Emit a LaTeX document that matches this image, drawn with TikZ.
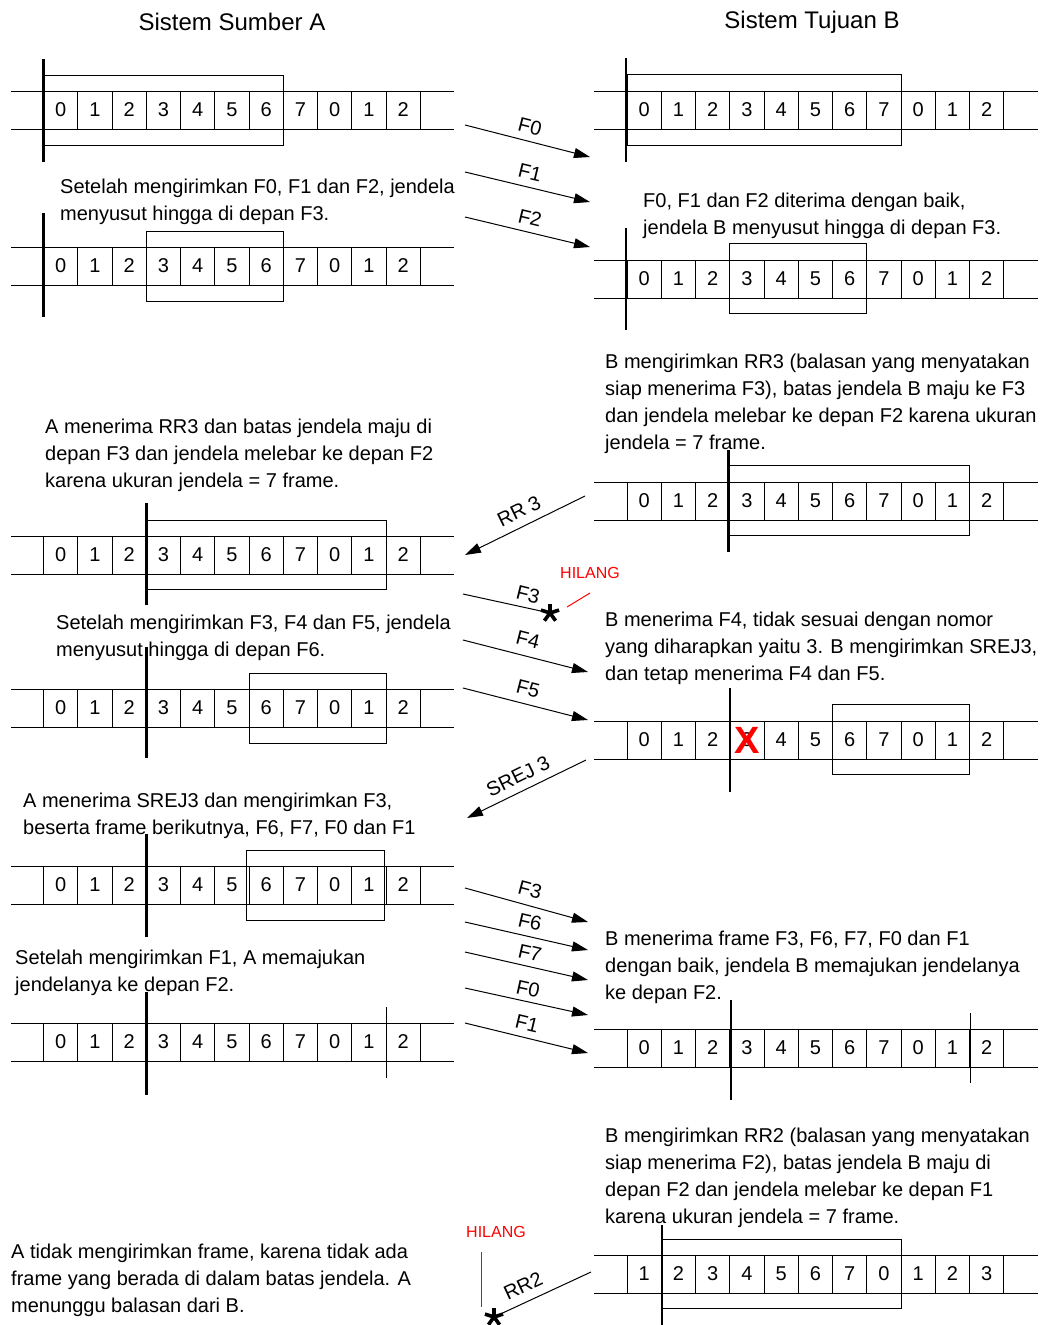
\documentclass[tikz,border=0pt]{standalone}
\usepackage{fontspec}
\setmainfont{Liberation Sans}
\usetikzlibrary{arrows.meta}
\newcommand{\seqrow}[6]{%
  \draw[cellline] (#4,#3) -- (#5,#3) (#4,#3+38) -- (#5,#3+38);
  \foreach \lab [count=\i from 0] in {#6} {
    \draw[cellline] (#2+\i*34.25,#3) rectangle (#2+\i*34.25+34.25,#3+38);
    \node[celltext] (#1-\i) at (#2+\i*34.25+17.1,#3+19) {\lab};
  }%
}
\tikzset{
  cellline/.style={line width=1pt, black},
  celltext/.style={inner sep=0pt, anchor=center, font=\fontsize{20}{24}\selectfont},
  bar/.style={line width=2.6pt, black},
  win/.style={line width=1pt, black},
  txt/.style={anchor=north west, align=left, inner sep=0pt, font=\fontsize{20}{27}\selectfont},
  ttl/.style={inner sep=0pt, anchor=center, font=\fontsize{24}{28}\selectfont},
  lbl/.style={inner sep=0pt, anchor=center, font=\fontsize{20}{24}\selectfont},
  msg/.style={line width=1pt, -{Triangle[length=16pt,width=10pt]}},
  lostmsg/.style={line width=1pt},
  lost/.style={inner sep=0pt, anchor=center, text=red, font=\fontsize{16}{18}\selectfont},
  redline/.style={line width=1pt, red},
  starline/.style={line width=3.6pt, black},
}
\begin{document}
\begin{tikzpicture}[x=1pt,y=-1pt]
\useasboundingbox[fill=white] (0,0) rectangle (1045,1325);

% titles
\node[ttl] (tA) at (232,22) {Sistem Sumber A};
\node[ttl] (tB) at (812,22) {Sistem Tujuan B};

% ---------- Side A ----------
% A1
\draw[win] (43.7,75) rectangle (283.45,145);
\seqrow{aA}{43.7}{91}{11}{454}{0,1,2,3,4,5,6,7,0,1,2}
\draw[bar] (43.7,59) -- (43.7,162);
\node[txt] (txA1) at (60,178.5) {Setelah mengirimkan F0, F1 dan F2, jendela\\menyusut hingga di depan F3.};
% A2
\draw[win] (146.45,231) rectangle (283.45,301);
\seqrow{aB}{43.7}{247}{11}{454}{0,1,2,3,4,5,6,7,0,1,2}
\draw[bar] (43.7,213) -- (43.7,317);
% A3
\node[txt] (txA3) at (45,418.5) {A menerima RR3 dan batas jendela maju di\\depan F3 dan jendela melebar ke depan F2\\karena ukuran jendela = 7 frame.};
\draw[win] (146.45,520) rectangle (386.2,589);
\seqrow{aC}{43.7}{536}{11}{454}{0,1,2,3,4,5,6,7,0,1,2}
\draw[bar] (146.45,503) -- (146.45,605);
\node[txt] (txA4) at (56,614.5) {Setelah mengirimkan F3, F4 dan F5, jendela\\menyusut hingga di depan F6.};
% A4
\draw[win] (249.2,673) rectangle (386.2,743);
\seqrow{aD}{43.7}{689}{11}{454}{0,1,2,3,4,5,6,7,0,1,2}
\draw[bar] (146.45,647) -- (146.45,758);
% A5
\node[txt] (txA5) at (23,792.5) {A menerima SREJ3 dan mengirimkan F3,\\beserta frame berikutnya, F6, F7, F0 dan F1};
\draw[win] (246,850) rectangle (384,920);
\seqrow{aE}{43.7}{866}{11}{454}{0,1,2,3,4,5,6,7,0,1,2}
\draw[bar] (146.45,834) -- (146.45,937);
\node[txt] (txA6) at (15,949.5) {Setelah mengirimkan F1, A memajukan\\jendelanya ke depan F2.};
% A6
\seqrow{aF}{43.7}{1023}{11}{454}{0,1,2,3,4,5,6,7,0,1,2}
\draw[bar] (146.45,992) -- (146.45,1095);
\draw[cellline] (386.2,1007) -- (386.2,1078);
\node[txt] (txA7) at (11,1243.5) {A tidak mengirimkan frame, karena tidak ada\\frame yang berada di dalam batas jendela. A\\menunggu balasan dari B.};

% ---------- Side B ----------
% B1
\draw[win] (627,74) rectangle (901,145);
\seqrow{bA}{627}{91}{594}{1038}{0,1,2,3,4,5,6,7,0,1,2}
\draw[bar] (626,58) -- (626,162);
\node[txt] (txB1) at (643,192.5) {F0, F1 dan F2 diterima dengan baik,\\jendela B menyusut hingga di depan F3.};
% B2
\draw[win] (729.75,243) rectangle (866.75,313);
\seqrow{bB}{627}{260}{594}{1038}{0,1,2,3,4,5,6,7,0,1,2}
\draw[bar] (626,228) -- (626,330);
% B3
\node[txt] (txB3) at (605,353.5) {B mengirimkan RR3 (balasan yang menyatakan\\siap menerima F3), batas jendela B maju ke F3\\dan jendela melebar ke depan F2 karena ukuran\\jendela = 7 frame.};
\draw[win] (729.75,465) rectangle (969.5,535);
\seqrow{bC}{627}{482}{594}{1038}{0,1,2,3,4,5,6,7,0,1,2}
\draw[bar] (728.5,450) -- (728.5,552);
% B4
\node[txt] (txB4) at (605,611.5) {B menerima F4, tidak sesuai dengan nomor\\yang diharapkan yaitu 3. B mengirimkan SREJ3,\\dan tetap menerima F4 dan F5.};
\draw[win] (832.5,704) rectangle (969.5,774);
\seqrow{bD}{627}{721}{594}{1038}{0,1,2,3,4,5,6,7,0,1,2}
\draw[bar] (730,688) -- (730,792);
\node[inner sep=0pt, text=red, font=\fontsize{38}{40}\selectfont\bfseries] (xmark) at (bD-3) {X};
% B5
\node[txt] (txB5) at (605,930.5) {B menerima frame F3, F6, F7, F0 dan F1\\dengan baik, jendela B memajukan jendelanya\\ke depan F2.};
\seqrow{bE}{627}{1029}{594}{1038}{0,1,2,3,4,5,6,7,0,1,2}
\draw[bar] (731,1000) -- (731,1100);
\draw[cellline] (970.5,1013) -- (970.5,1083);
% B6
\node[txt] (txB6) at (605,1127.5) {B mengirimkan RR2 (balasan yang menyatakan\\siap menerima F2), batas jendela B maju di\\depan F2 dan jendela melebar ke depan F1\\karena ukuran jendela = 7 frame.};
\draw[win] (661.25,1239) rectangle (901,1308);
\seqrow{bF}{627}{1255}{594}{1038}{1,2,3,4,5,6,7,0,1,2,3}
\draw[bar] (662,1225) -- (662,1325);

% ---------- Messages ----------
\coordinate (m0s) at (465,125);  \coordinate (m0e) at (590,157);
\coordinate (m1s) at (465,172);  \coordinate (m1e) at (590,202);
\coordinate (m2s) at (465,217);  \coordinate (m2e) at (590,247);
\draw[msg] (m0s) -- (m0e);
\draw[msg] (m1s) -- (m1e);
\draw[msg] (m2s) -- (m2e);
\node[lbl, rotate=-14.4] (l0) at (530,127) {F0};
\node[lbl, rotate=-13.5] (l1) at (530,173) {F1};
\node[lbl, rotate=-13.5] (l2) at (530,218) {F2};

\coordinate (r3s) at (585,496); \coordinate (r3e) at (465,555);
\draw[msg] (r3s) -- (r3e);
\node[lbl, rotate=26] (lr3) at (519,511) {RR 3};

\coordinate (f3s) at (463,594); \coordinate (star1) at (550,613);
\draw[lostmsg] (f3s) -- (star1);
\foreach \a in {-90,-18,54,126,198} \draw[starline] (star1) -- ++(\a:9.5);
\node[lbl, rotate=-14] (lf3) at (528,595) {F3};
\node[lost] (hil1) at (590,573) {HILANG};
\coordinate (rl1a) at (567,607); \coordinate (rl1b) at (590,593);
\draw[redline] (rl1a) -- (rl1b);

\coordinate (f4s) at (463,640); \coordinate (f4e) at (588,672);
\coordinate (f5s) at (463,688); \coordinate (f5e) at (588,720);
\draw[msg] (f4s) -- (f4e);
\draw[msg] (f5s) -- (f5e);
\node[lbl, rotate=-14.4] (lf4) at (528,640) {F4};
\node[lbl, rotate=-14.4] (lf5) at (528,689) {F5};

\coordinate (sjs) at (586,760); \coordinate (sje) at (467,818);
\draw[msg] (sjs) -- (sje);
\node[lbl, rotate=26] (lsj) at (518,776) {SREJ 3};

\coordinate (g3s) at (465,888);  \coordinate (g3e) at (588,922);
\coordinate (g6s) at (465,922);  \coordinate (g6e) at (588,950);
\coordinate (g7s) at (465,952);  \coordinate (g7e) at (588,980);
\coordinate (g0s) at (465,988);  \coordinate (g0e) at (588,1015);
\coordinate (g1s) at (465,1023); \coordinate (g1e) at (588,1053);
\draw[msg] (g3s) -- (g3e);
\draw[msg] (g6s) -- (g6e);
\draw[msg] (g7s) -- (g7e);
\draw[msg] (g0s) -- (g0e);
\draw[msg] (g1s) -- (g1e);
\node[lbl, rotate=-15] (lg3) at (530,890) {F3};
\node[lbl, rotate=-13] (lg6) at (530,922) {F6};
\node[lbl, rotate=-13] (lg7) at (530,953) {F7};
\node[lbl, rotate=-12.5] (lg0) at (528,989) {F0};
\node[lbl, rotate=-13.5] (lg1) at (527,1024) {F1};

\coordinate (rr2s) at (591,1272); \coordinate (star2) at (494,1317);
\draw[lostmsg] (rr2s) -- (star2);
\foreach \a in {-90,-18,54,126,198} \draw[starline] (star2) -- ++(\a:9.5);
\node[lbl, rotate=25] (lrr2) at (523,1286) {RR2};
\node[lost] (hil2) at (496,1232) {HILANG};
\coordinate (rl2a) at (481.5,1252); \coordinate (rl2b) at (481.5,1307);
\draw[redline] (rl2a) -- (rl2b);
\end{tikzpicture}
\end{document}
